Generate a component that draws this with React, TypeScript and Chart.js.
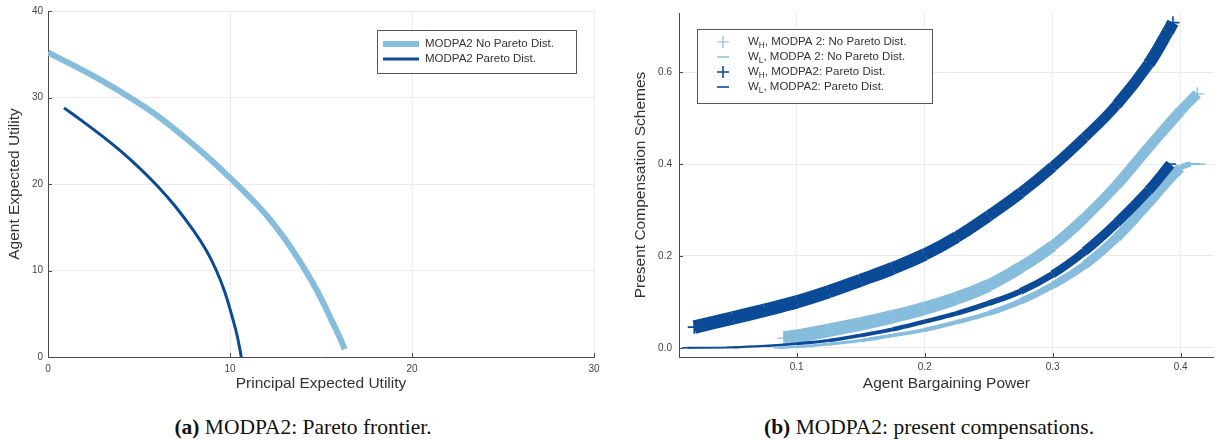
import React, { useEffect, useRef } from "react";
import { Chart, registerables } from "chart.js";
Chart.register(...registerables);

// ---------- Panel (a): Pareto frontier ----------
const frontierNoParetoX = [0, 1.5, 3, 4.5, 6, 7.5, 9, 10, 11, 12, 13, 14, 14.8, 15.5, 16, 16.3];
const frontierNoParetoY = [35.2, 33.6, 31.9, 30.0, 27.9, 25.4, 22.7, 20.7, 18.65, 16.4, 13.7, 10.5, 7.6, 4.6, 2.4, 0.9];
const frontierParetoX = [0.88, 2, 3, 4, 5, 6, 7, 8, 8.7, 9.25, 9.7, 10.1, 10.4, 10.62];
const frontierParetoY = [28.8, 27.1, 25.5, 23.8, 21.9, 19.8, 17.4, 14.6, 12.3, 10.0, 7.6, 4.8, 2.4, 0];
const leftXTicks = [0, 10, 20, 30];
const leftYTicks = [0, 10, 20, 30, 40];
const leftLabels = ["MODPA2 No Pareto Dist.", "MODPA2 Pareto Dist."];

// ---------- Panel (b): present compensations ----------
const whNoParetoX = [0.09, 0.1, 0.125, 0.15, 0.175, 0.2, 0.225, 0.25, 0.275, 0.3, 0.325, 0.35, 0.375, 0.4, 0.413];
const whNoParetoY = [0.021, 0.025, 0.038, 0.052, 0.068, 0.086, 0.108, 0.136, 0.175, 0.222, 0.283, 0.354, 0.436, 0.516, 0.553];
const wlNoParetoX = [0.086, 0.1, 0.125, 0.15, 0.175, 0.2, 0.225, 0.25, 0.275, 0.3, 0.325, 0.35, 0.375, 0.4, 0.408, 0.415];
const wlNoParetoY = [0.0, 0.002, 0.008, 0.016, 0.027, 0.039, 0.056, 0.075, 0.101, 0.136, 0.18, 0.24, 0.315, 0.392, 0.4, 0.4];
const whParetoX = [0.02, 0.05, 0.075, 0.1, 0.125, 0.15, 0.175, 0.2, 0.225, 0.25, 0.275, 0.3, 0.325, 0.35, 0.375, 0.39, 0.394];
const whParetoY = [0.045, 0.065, 0.082, 0.1, 0.122, 0.147, 0.173, 0.203, 0.241, 0.287, 0.337, 0.394, 0.458, 0.529, 0.618, 0.688, 0.708];
const wlParetoX = [0.015, 0.05, 0.075, 0.1, 0.125, 0.15, 0.175, 0.2, 0.225, 0.25, 0.275, 0.3, 0.325, 0.35, 0.375, 0.392];
const wlParetoY = [0.0, 0.001, 0.004, 0.009, 0.016, 0.027, 0.04, 0.057, 0.075, 0.097, 0.123, 0.16, 0.21, 0.272, 0.343, 0.4];
const rightXTicks = [0.1, 0.2, 0.3, 0.4];
const rightYTicks = [0.0, 0.2, 0.4, 0.6];
const rightLabels = [
  "W_H, MODPA 2: No Pareto Dist.",
  "W_L, MODPA 2: No Pareto Dist.",
  "W_H, MODPA2: Pareto Dist.",
  "W_L, MODPA2: Pareto Dist.",
];

const LIGHT = "#86bcdc";
const DARK = "#0a4a97";
const GRID = "#ebebeb";
const AXIS = "#4a4a4a";
const TICK = "#444444";
const TITLE = "#333333";
const SANS = "'Liberation Sans', Arial, Helvetica, sans-serif";
const CROSS = 13;
const DASH = 11;

const zip = (xs: number[], ys: number[]) => xs.map((x, i) => ({ x, y: ys[i] }));

const crossWidth = (ctx: any) => {
  const dx = ctx.p1.x - ctx.p0.x;
  const dy = ctx.p1.y - ctx.p0.y;
  const L = Math.hypot(dx, dy) || 1;
  return (CROSS * Math.max(Math.abs(dx), Math.abs(dy))) / L + 0.8;
};
const dashWidth = (ctx: any) => {
  const dx = ctx.p1.x - ctx.p0.x;
  const dy = ctx.p1.y - ctx.p0.y;
  const L = Math.hypot(dx, dy) || 1;
  return (DASH * Math.abs(dy)) / L + 1.8;
};

const innerTicks = {
  id: "innerTicks",
  beforeDatasetsDraw(chart: any) {
    const { ctx, chartArea, scales } = chart;
    ctx.save();
    ctx.strokeStyle = AXIS;
    ctx.lineWidth = 1;
    for (const t of scales.x.ticks) {
      const px = Math.round(scales.x.getPixelForValue(t.value)) + 0.5;
      ctx.beginPath();
      ctx.moveTo(px, chartArea.bottom);
      ctx.lineTo(px, chartArea.bottom - 4);
      ctx.stroke();
    }
    for (const t of scales.y.ticks) {
      const py = Math.round(scales.y.getPixelForValue(t.value)) + 0.5;
      ctx.beginPath();
      ctx.moveTo(chartArea.left, py);
      ctx.lineTo(chartArea.left + 4, py);
      ctx.stroke();
    }
    ctx.restore();
  },
};

function drawLabel(ctx: any, text: string, x: number, y: number, size: number) {
  const m = text.match(/^(.*?)_(\w)(.*)$/);
  ctx.textBaseline = "middle";
  ctx.textAlign = "left";
  ctx.font = `${size}px ${SANS}`;
  if (!m) {
    ctx.fillText(text, x, y);
    return;
  }
  ctx.fillText(m[1], x, y);
  let cx = x + ctx.measureText(m[1]).width;
  ctx.font = `${size * 0.72}px ${SANS}`;
  ctx.fillText(m[2], cx, y + 3.5);
  cx += ctx.measureText(m[2]).width;
  ctx.font = `${size}px ${SANS}`;
  ctx.fillText(m[3], cx, y);
}

const boxLegend = {
  id: "boxLegend",
  afterDatasetsDraw(chart: any, _args: any, opts: any) {
    const { ctx } = chart;
    const { x, y, w, h, rows, markerX, textX, size } = opts;
    ctx.save();
    ctx.fillStyle = "#ffffff";
    ctx.fillRect(x, y, w, h);
    ctx.strokeStyle = "#555555";
    ctx.lineWidth = 1;
    ctx.strokeRect(x + 0.5, y + 0.5, w, h);
    chart.data.datasets.forEach((ds: any, i: number) => {
      const ry = rows[i];
      const kind = ds.legendMarker;
      ctx.strokeStyle = ds.borderColor;
      ctx.lineCap = "butt";
      ctx.beginPath();
      if (kind === "line") {
        ctx.lineWidth = ds.borderWidth;
        ctx.moveTo(markerX - 18, ry);
        ctx.lineTo(markerX + 18, ry);
      } else if (kind === "cross") {
        ctx.lineWidth = ds.legendStroke;
        ctx.moveTo(markerX - 6, ry);
        ctx.lineTo(markerX + 6, ry);
        ctx.moveTo(markerX, ry - 6);
        ctx.lineTo(markerX, ry + 6);
      } else {
        ctx.lineWidth = ds.legendStroke;
        ctx.moveTo(markerX - 6, ry);
        ctx.lineTo(markerX + 6, ry);
      }
      ctx.stroke();
      ctx.fillStyle = TITLE;
      drawLabel(ctx, ds.label, textX, ry, size);
    });
    ctx.restore();
  },
};

function axisCommon(ticksList: number[], fmt: (v: number) => string, padding: number) {
  return {
    afterBuildTicks: (s: any) => {
      s.ticks = ticksList.map((v) => ({ value: v }));
    },
    grid: { color: GRID, drawTicks: false, lineWidth: 1 },
    border: { color: AXIS, width: 1 },
    ticks: {
      padding,
      color: TICK,
      font: { family: SANS, size: 10 },
      maxRotation: 0,
      autoSkip: false,
      callback: (v: any) => fmt(Number(v)),
    },
  };
}

function LeftChart() {
  const ref = useRef<HTMLCanvasElement | null>(null);
  useEffect(() => {
    if (!ref.current) return;
    const chart = new Chart(ref.current, {
      type: "line",
      data: {
        datasets: [
          {
            label: leftLabels[0],
            data: zip(frontierNoParetoX, frontierNoParetoY),
            borderColor: LIGHT,
            backgroundColor: LIGHT,
            borderWidth: 6,
            pointRadius: 0,
            tension: 0.4,
            borderCapStyle: "butt",
            clip: 0,
            legendMarker: "line",
          } as any,
          {
            label: leftLabels[1],
            data: zip(frontierParetoX, frontierParetoY),
            borderColor: DARK,
            backgroundColor: DARK,
            borderWidth: 3,
            pointRadius: 0,
            tension: 0.4,
            borderCapStyle: "butt",
            clip: 0,
            legendMarker: "line",
          } as any,
        ],
      },
      options: {
        animation: false,
        responsive: false,
        devicePixelRatio: 1,
        events: [],
        layout: { padding: { left: 0, top: 7, right: 16, bottom: 0 } },
        scales: {
          x: {
            type: "linear",
            min: 0,
            max: 30,
            ...axisCommon(leftXTicks, (v) => String(v), 6),
            afterFit: (s: any) => {
              s.height = 38;
            },
            title: {
              display: true,
              text: "Principal Expected Utility",
              color: TITLE,
              font: { family: SANS, size: 15.5 },
              padding: { top: 0, bottom: 2 },
            },
          } as any,
          y: {
            type: "linear",
            min: 0,
            max: 40,
            ...axisCommon(leftYTicks, (v) => String(v), 5),
            afterFit: (s: any) => {
              s.width = 48;
            },
            title: {
              display: true,
              text: "Agent Expected Utility",
              color: TITLE,
              font: { family: SANS, size: 15.5 },
              padding: { top: 5, bottom: 0 },
            },
          } as any,
        },
        plugins: {
          legend: { display: false },
          tooltip: { enabled: false },
          boxLegend: {
            x: 377,
            y: 30,
            w: 199,
            h: 43,
            rows: [44, 59],
            markerX: 401,
            textX: 425,
            size: 11.5,
          },
        } as any,
      },
      plugins: [innerTicks, boxLegend],
    });
    return () => chart.destroy();
  }, []);
  return <canvas ref={ref} width={610} height={395} style={{ display: "block" }} />;
}

function RightChart() {
  const ref = useRef<HTMLCanvasElement | null>(null);
  useEffect(() => {
    if (!ref.current) return;
    const mk = (label: string, xs: number[], ys: number[], color: string, kind: "cross" | "dash", order: number, stroke: number) =>
      ({
        label,
        data: zip(xs, ys),
        borderColor: color,
        backgroundColor: color,
        borderWidth: 6,
        borderCapStyle: "butt",
        borderJoinStyle: "round",
        segment: { borderWidth: kind === "cross" ? crossWidth : dashWidth },
        pointStyle: kind === "cross" ? "cross" : "line",
        pointRadius: kind === "cross" ? CROSS / 2 : DASH / 2,
        pointBorderWidth: stroke,
        pointBorderColor: color,
        pointBackgroundColor: color,
        tension: 0.4,
        order,
        legendMarker: kind,
        legendStroke: stroke,
      }) as any;
    const chart = new Chart(ref.current, {
      type: "line",
      data: {
        datasets: [
          mk(rightLabels[0], whNoParetoX, whNoParetoY, LIGHT, "cross", 3, 1.2),
          mk(rightLabels[1], wlNoParetoX, wlNoParetoY, LIGHT, "dash", 2, 1.5),
          mk(rightLabels[2], whParetoX, whParetoY, DARK, "cross", 1, 1.6),
          mk(rightLabels[3], wlParetoX, wlParetoY, DARK, "dash", 0, 1.6),
        ],
      },
      options: {
        animation: false,
        responsive: false,
        devicePixelRatio: 1,
        events: [],
        layout: { padding: { left: 0, top: 7, right: 2, bottom: 0 } },
        scales: {
          x: {
            type: "linear",
            min: 0.0081,
            max: 0.426,
            ...axisCommon(rightXTicks, (v) => v.toFixed(1), 4),
            afterFit: (s: any) => {
              s.height = 38;
            },
            title: {
              display: true,
              text: "Agent Bargaining Power",
              color: TITLE,
              font: { family: SANS, size: 15.5 },
              padding: { top: 0, bottom: 2 },
            },
          } as any,
          y: {
            type: "linear",
            min: -0.02,
            max: 0.729,
            ...axisCommon(rightYTicks, (v) => v.toFixed(1), 7),
            afterFit: (s: any) => {
              s.width = 69;
            },
            title: {
              display: true,
              text: "Present Compensation Schemes",
              color: TITLE,
              font: { family: SANS, size: 15.5 },
              padding: { top: 21, bottom: 0 },
            },
          } as any,
        },
        plugins: {
          legend: { display: false },
          tooltip: { enabled: false },
          boxLegend: {
            x: 87,
            y: 29,
            w: 235,
            h: 74,
            rows: [42, 57, 72, 87],
            markerX: 113,
            textX: 138,
            size: 11.5,
          },
        } as any,
      },
      plugins: [innerTicks, boxLegend],
    });
    return () => chart.destroy();
  }, []);
  return <canvas ref={ref} width={612} height={395} style={{ display: "block" }} />;
}

const captionStyle: React.CSSProperties = {
  position: "absolute",
  top: 413,
  width: 500,
  textAlign: "center",
  fontFamily: "'Liberation Serif', 'Times New Roman', serif",
  fontSize: 21.5,
  lineHeight: "28px",
  color: "#111",
  whiteSpace: "nowrap",
};

export default function App() {
  return (
    <div style={{ position: "absolute", left: 0, top: 0, width: 1222, height: 440, background: "#fff", overflow: "hidden" }}>
      <div style={{ position: "absolute", left: 0, top: 0 }}>
        <LeftChart />
      </div>
      <div style={{ position: "absolute", left: 610, top: 0 }}>
        <RightChart />
      </div>
      <div style={{ ...captionStyle, left: 303 - 250 }}>
        <b>(a)</b> MODPA2: Pareto frontier.
      </div>
      <div style={{ ...captionStyle, left: 929 - 250 }}>
        <b>(b)</b> MODPA2: present compensations.
      </div>
    </div>
  );
}
